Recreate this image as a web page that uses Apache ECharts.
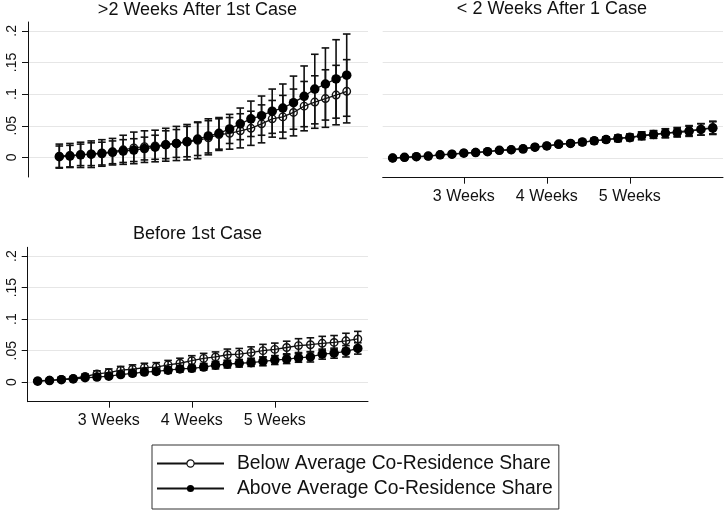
<!DOCTYPE html>
<html>
<head>
<meta charset="utf-8">
<script src="https://cdn.jsdelivr.net/npm/echarts@6/dist/echarts.min.js"></script>
<style>html,body{margin:0;padding:0;background:#fff}#c{width:725px;height:512px}</style>
</head>
<body>
<div id="c"></div>
<script>
// ---------- data ----------
const days = [15,16,17,18,19,20,21,22,23,24,25,26,27,28,29,30,31,32,33,34,35,36,37,38,39,40,41,42];
const xTickValues = [21, 28, 35];
const xTickLabels = ['3 Weeks', '4 Weeks', '5 Weeks'];
const yTickValues = [0, 0.05, 0.1, 0.15, 0.2];
const yTickLabels = ['0', '.05', '.1', '.15', '.2'];
const panelTitles = ['>2 Weeks After 1st Case', '< 2 Weeks After 1 Case', 'Before 1st Case'];
const seriesNames = ['Below Average Co-Residence Share', 'Above Average Co-Residence Share'];

// >2 Weeks After 1st Case
const lateBelow   = [0.002,0.003,0.004,0.005,0.007,0.009,0.012,0.015,0.017,0.018,0.020,0.022,0.024,0.027,0.031,0.036,0.038,0.042,0.046,0.053,0.061,0.064,0.071,0.081,0.0875,0.093,0.0985,0.1045];
const lateBelowCI = [0.019,0.019,0.020,0.021,0.021,0.021,0.023,0.025,0.025,0.025,0.026,0.027,0.028,0.029,0.027,0.025,0.025,0.027,0.027,0.030,0.029,0.034,0.037,0.039,0.0415,0.0455,0.047,0.050];
const lateAbove   = [0.001,0.002,0.004,0.005,0.006,0.008,0.010,0.0115,0.014,0.016,0.020,0.022,0.025,0.029,0.034,0.038,0.045,0.053,0.061,0.066,0.073,0.078,0.0865,0.0965,0.108,0.116,0.124,0.130];
const lateAboveCI = [0.017,0.017,0.017,0.018,0.018,0.018,0.018,0.018,0.018,0.019,0.022,0.022,0.024,0.026,0.027,0.025,0.023,0.025,0.028,0.031,0.035,0.038,0.042,0.048,0.055,0.057,0.062,0.065];

// < 2 Weeks After 1 Case
const earlyBelow   = [0.000,0.001,0.002,0.003,0.005,0.006,0.008,0.009,0.010,0.012,0.013,0.015,0.017,0.019,0.021,0.023,0.025,0.027,0.029,0.031,0.033,0.035,0.037,0.039,0.041,0.043,0.045,0.048];
const earlyBelowCI = [0.001,0.001,0.001,0.001,0.001,0.002,0.002,0.002,0.002,0.002,0.002,0.003,0.003,0.003,0.003,0.003,0.004,0.004,0.004,0.005,0.005,0.006,0.006,0.007,0.007,0.008,0.009,0.010];
const earlyAbove   = [0.000,0.001,0.002,0.003,0.005,0.006,0.0075,0.0085,0.010,0.012,0.013,0.014,0.017,0.019,0.022,0.023,0.025,0.027,0.029,0.031,0.032,0.035,0.037,0.039,0.040,0.042,0.045,0.047];
const earlyAboveCI = [0.001,0.001,0.001,0.001,0.001,0.002,0.002,0.002,0.002,0.002,0.002,0.003,0.003,0.003,0.003,0.003,0.004,0.004,0.004,0.005,0.005,0.006,0.006,0.007,0.007,0.008,0.009,0.010];

// Before 1st Case
const beforeBelow   = [0.002,0.003,0.0045,0.006,0.009,0.013,0.015,0.019,0.0205,0.023,0.024,0.0275,0.030,0.034,0.0377,0.040,0.0435,0.0445,0.047,0.050,0.052,0.055,0.058,0.0594,0.0617,0.063,0.0656,0.0686];
const beforeBelowCI = [0.002,0.002,0.003,0.003,0.004,0.005,0.006,0.006,0.007,0.007,0.007,0.007,0.008,0.008,0.008,0.008,0.009,0.009,0.009,0.010,0.010,0.010,0.011,0.011,0.011,0.011,0.012,0.012];
const beforeAbove   = [0.0015,0.0025,0.004,0.005,0.007,0.008,0.0095,0.012,0.014,0.016,0.017,0.019,0.021,0.022,0.024,0.027,0.0285,0.030,0.031,0.033,0.035,0.0365,0.0386,0.040,0.0445,0.046,0.049,0.0535];
const beforeAboveCI = [0.001,0.001,0.002,0.002,0.002,0.003,0.003,0.003,0.004,0.004,0.004,0.005,0.005,0.005,0.005,0.006,0.006,0.006,0.006,0.007,0.007,0.007,0.007,0.008,0.008,0.008,0.009,0.009];

// ---------- chart ----------
const FONT = "'Liberation Sans', Arial, Helvetica, sans-serif";
const INK = '#111';
const GRIDC = '#e6e6e6';

const chart = echarts.init(document.getElementById('c'), null, {renderer: 'canvas'});

function pts(vals) { return days.map((d, i) => [d, vals[i]]); }
function bars(vals, hw) { return days.map((d, i) => [d, vals[i] - hw[i], vals[i] + hw[i]]); }

function renderErr(params, api) {
  const x = api.value(0);
  const lo = api.coord([x, api.value(1)]);
  const hi = api.coord([x, api.value(2)]);
  const w = 3.8;
  const st = {stroke: INK, lineWidth: 1.6};
  return {
    type: 'group',
    children: [
      {type: 'line', shape: {x1: lo[0], y1: lo[1], x2: hi[0], y2: hi[1]}, style: st},
      {type: 'line', shape: {x1: lo[0] - w, y1: lo[1], x2: lo[0] + w, y2: lo[1]}, style: st},
      {type: 'line', shape: {x1: hi[0] - w, y1: hi[1], x2: hi[0] + w, y2: hi[1]}, style: st}
    ]
  };
}

function yLabelFmt(v) {
  for (let i = 0; i < yTickValues.length; i++) if (Math.abs(v - yTickValues[i]) < 1e-6) return yTickLabels[i];
  return '';
}
function xLabelFmt(v) {
  for (let i = 0; i < xTickValues.length; i++) if (Math.abs(v - xTickValues[i]) < 1e-6) return xTickLabels[i];
  return '';
}

const Y_MIN = -0.031, Y_MAX = 0.214;

function makeY(gridIndex, showAxis) {
  return {
    type: 'value', gridIndex, min: Y_MIN, max: Y_MAX, interval: 0.05,
    axisLine: {show: showAxis, lineStyle: {color: INK, width: 1}},
    axisTick: {show: showAxis, customValues: yTickValues, length: 6, lineStyle: {color: INK}},
    axisLabel: {show: showAxis, customValues: yTickValues, rotate: 90, margin: 9, formatter: yLabelFmt,
      hideOverlap: false,
      fontFamily: FONT, fontSize: 14, color: INK},
    splitLine: {show: true, lineStyle: {color: GRIDC, width: 1}}
  };
}
function makeX(gridIndex, min, max, showAxis) {
  return {
    type: 'value', gridIndex, min, max, show: showAxis,
    axisLine: {show: showAxis, onZero: false, lineStyle: {color: INK, width: 1}},
    axisTick: {show: showAxis, customValues: xTickValues, length: 6, lineStyle: {color: INK}},
    axisLabel: {show: showAxis, customValues: xTickValues, margin: 11, formatter: xLabelFmt,
      hideOverlap: false,
      fontFamily: FONT, fontSize: 16, color: INK},
    splitLine: {show: false}
  };
}

function panelSeries(gi, below, belowCI, above, aboveCI) {
  return [
    {type: 'custom', xAxisIndex: gi, yAxisIndex: gi, renderItem: renderErr, data: bars(below, belowCI),
      encode: {x: 0, y: [1, 2]}, z: 2, silent: true},
    {type: 'line', name: seriesNames[0], xAxisIndex: gi, yAxisIndex: gi, data: pts(below),
      symbol: 'circle', symbolSize: 7.5, showAllSymbol: true,
      lineStyle: {color: INK, width: 1.3},
      itemStyle: {color: 'rgba(255,255,255,0)', borderColor: INK, borderWidth: 1.4},
      z: 3, animation: false, silent: true},
    {type: 'custom', xAxisIndex: gi, yAxisIndex: gi, renderItem: renderErr, data: bars(above, aboveCI),
      encode: {x: 0, y: [1, 2]}, z: 4, silent: true},
    {type: 'line', name: seriesNames[1], xAxisIndex: gi, yAxisIndex: gi, data: pts(above),
      symbol: 'circle', symbolSize: 9.5, showAllSymbol: true,
      lineStyle: {color: INK, width: 1.3},
      itemStyle: {color: '#000', borderWidth: 0},
      z: 5, animation: false, silent: true}
  ];
}

const titleStyle = {fontFamily: FONT, fontSize: 18, fontWeight: 'normal', color: INK, lineHeight: 18};

const option = {
  animation: false,
  backgroundColor: '#fff',
  title: [
    {text: panelTitles[0], left: 197.5, top: 1, textAlign: 'center', padding: 0, textStyle: titleStyle},
    {text: panelTitles[1], left: 552, top: 0.5, textAlign: 'center', padding: 0, textStyle: titleStyle},
    {text: panelTitles[2], left: 197.5, top: 225.5, textAlign: 'center', padding: 0, textStyle: titleStyle}
  ],
  grid: [
    {left: 28, top: 22, width: 340, height: 155, outerBoundsMode: 'none', containLabel: false},
    {left: 382.7, top: 22, width: 340.3, height: 155.7, outerBoundsMode: 'none', containLabel: false},
    {left: 27.7, top: 247.3, width: 340.3, height: 154.4, outerBoundsMode: 'none', containLabel: false}
  ],
  xAxis: [
    makeX(0, 12.06, 44.0, false),
    makeX(1, 14.16, 42.86, true),
    makeX(2, 14.16, 42.86, true)
  ],
  yAxis: [makeY(0, true), makeY(1, false), makeY(2, true)],
  legend: {
    orient: 'vertical',
    left: 152, top: 445,
    padding: [9, 6, 11, 4],
    itemGap: 6,
    itemWidth: 67, itemHeight: 9,
    borderColor: '#333', borderWidth: 1,
    backgroundColor: '#fff',
    selectedMode: false,
    textStyle: {fontFamily: FONT, fontSize: 19.3, color: INK, lineHeight: 19, padding: [0, 0, 0, 8]},
    data: [
      {name: seriesNames[0], itemStyle: {color: '#fff', borderColor: INK, borderWidth: 1.2}},
      {name: seriesNames[1]}
    ]
  },
  series: [].concat(
    panelSeries(0, lateBelow, lateBelowCI, lateAbove, lateAboveCI),
    panelSeries(1, earlyBelow, earlyBelowCI, earlyAbove, earlyAboveCI),
    panelSeries(2, beforeBelow, beforeBelowCI, beforeAbove, beforeAboveCI)
  )
};
chart.setOption(option);
</script>
</body>
</html>
